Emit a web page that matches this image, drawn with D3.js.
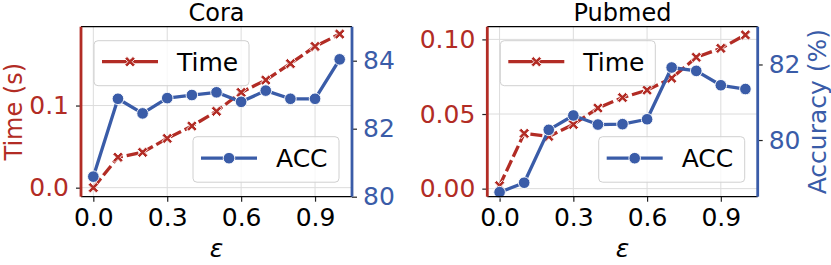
<!DOCTYPE html>
<html>
<head>
<meta charset="utf-8">
<script src="https://cdn.jsdelivr.net/npm/d3@7"></script>
<style>
  body { margin: 0; background: #fff; }
  svg { display: block; font-family: "DejaVu Sans", sans-serif; }
</style>
</head>
<body>
<svg id="chart" width="831" height="265"></svg>
<script>
// ---------------- data ----------------
const eps = [0.0, 0.1, 0.2, 0.3, 0.4, 0.5, 0.6, 0.7, 0.8, 0.9, 1.0];
const coraTime = [0.000, 0.037, 0.043, 0.060, 0.075, 0.093, 0.116, 0.131, 0.151, 0.172, 0.187];
const coraAcc = [80.59, 82.88, 82.45, 82.90, 82.99, 83.07, 82.79, 83.12, 82.88, 82.88, 84.04];
const pubmedTime = [0.002, 0.037, 0.035, 0.043, 0.054, 0.061, 0.066, 0.074, 0.088, 0.094, 0.103];
const pubmedAcc = [78.62, 78.87, 80.27, 80.65, 80.41, 80.42, 80.55, 81.92, 81.83, 81.45, 81.35];
const xTicks = [0.0, 0.3, 0.6, 0.9];
const coraTimeTicks = [0.0, 0.1];
const coraAccTicks = [80, 82, 84];
const pubmedTimeTicks = [0.00, 0.05, 0.10];
const pubmedAccTicks = [80, 82];
const titles = ["Cora", "Pubmed"];
const seriesNames = ["Time", "ACC"];

// ---------------- style ----------------
const RED = "#b22c25";
const BLUE = "#3a5ca8";
const GRID = "#dcdcdc";
const FS = 25;
const LW = 3.3;

const svg = d3.select("#chart");

function xMarkerPath(a, w) {
  const pts = [[w,a],[w,w],[a,w],[a,-w],[w,-w],[w,-a],[-w,-a],[-w,-w],[-a,-w],[-a,w],[-w,w],[-w,a]];
  const c = Math.SQRT1_2;
  return "M" + pts.map(([x,y]) => [(x - y) * c, (x + y) * c].map(v => v.toFixed(2)).join(",")).join("L") + "Z";
}
const XPATH = xMarkerPath(5.8, 1.6);
const R = 5.8;

function drawPanel(cfg) {
  const g = svg.append("g");
  const x = d3.scaleLinear().domain([-0.05, 1.05]).range([cfg.left, cfg.right]);
  const yT = d3.scaleLinear().domain(cfg.timeDomain).range([cfg.bottom, cfg.top]);
  const yA = d3.scaleLinear().domain(cfg.accDomain).range([cfg.bottom, cfg.top]);

  // grid
  g.append("g").selectAll("line").data(xTicks).join("line")
    .attr("x1", d => x(d)).attr("x2", d => x(d))
    .attr("y1", cfg.top).attr("y2", cfg.bottom)
    .attr("stroke", GRID).attr("stroke-width", 1);
  g.append("g").selectAll("line").data(cfg.timeTicks).join("line")
    .attr("x1", cfg.left).attr("x2", cfg.right)
    .attr("y1", d => yT(d)).attr("y2", d => yT(d))
    .attr("stroke", GRID).attr("stroke-width", 1);

  // axes
  const ax = g.append("g").attr("transform", `translate(0,${cfg.bottom})`)
    .call(d3.axisBottom(x).tickValues(xTicks).tickFormat(d3.format(".1f")).tickSize(5).tickPadding(7));
  ax.select(".domain").remove();
  ax.selectAll("text").attr("font-size", FS).attr("fill", "#000").attr("font-family", "DejaVu Sans");
  ax.selectAll("line").attr("stroke", "#222").attr("stroke-width", 1.2);

  const al = g.append("g").attr("transform", `translate(${cfg.left},0)`)
    .call(d3.axisLeft(yT).tickValues(cfg.timeTicks).tickFormat(d3.format(cfg.timeFmt)).tickSize(5).tickPadding(7));
  al.select(".domain").remove();
  al.selectAll("text").attr("font-size", FS).attr("fill", RED).attr("font-family", "DejaVu Sans");
  al.selectAll("line").attr("stroke", "#222").attr("stroke-width", 1.2);

  const ar = g.append("g").attr("transform", `translate(${cfg.right},0)`)
    .call(d3.axisRight(yA).tickValues(cfg.accTicks).tickFormat(d3.format("d")).tickSize(5).tickPadding(6));
  ar.select(".domain").remove();
  ar.selectAll("text").attr("font-size", FS).attr("fill", BLUE).attr("font-family", "DejaVu Sans");
  ar.selectAll("line").attr("stroke", "#222").attr("stroke-width", 1.2);

  // Time line (ax1)
  const lineT = d3.line().x((d, i) => x(eps[i])).y(d => yT(d));
  g.append("path").datum(cfg.time).attr("d", lineT)
    .attr("fill", "none").attr("stroke", RED).attr("stroke-width", LW)
    .attr("stroke-dasharray", "12,4").attr("stroke-linejoin", "round");
  g.append("g").selectAll("path").data(cfg.time).join("path")
    .attr("d", XPATH)
    .attr("transform", (d, i) => `translate(${x(eps[i])},${yT(d)})`)
    .attr("fill", RED).attr("stroke", "#fff").attr("stroke-width", 0.9);

  // Time legend
  const lt = g.append("g");
  const ltx = cfg.left + 13, lty = cfg.top + 14;
  lt.append("rect").attr("x", ltx).attr("y", lty).attr("width", 155).attr("height", 45)
    .attr("rx", 4).attr("fill", "#fff").attr("fill-opacity", 0.8)
    .attr("stroke", "#d0d0d0").attr("stroke-width", 1);
  const hy1 = lty + 21;
  lt.append("line").attr("x1", ltx + 8).attr("x2", ltx + 64).attr("y1", hy1).attr("y2", hy1)
    .attr("stroke", RED).attr("stroke-width", LW);
  lt.append("path").attr("d", XPATH).attr("transform", `translate(${ltx + 36},${hy1})`)
    .attr("fill", RED).attr("stroke", "#fff").attr("stroke-width", 0.9);
  lt.append("text").attr("x", ltx + 83).attr("y", hy1 + 9).attr("font-size", FS)
    .attr("fill", "#000").text(seriesNames[0]);

  // ACC line (ax2, on top)
  const lineA = d3.line().x((d, i) => x(eps[i])).y(d => yA(d));
  g.append("path").datum(cfg.acc).attr("d", lineA)
    .attr("fill", "none").attr("stroke", BLUE).attr("stroke-width", LW).attr("stroke-linejoin", "round");
  g.append("g").selectAll("circle").data(cfg.acc).join("circle")
    .attr("cx", (d, i) => x(eps[i])).attr("cy", d => yA(d)).attr("r", R)
    .attr("fill", BLUE).attr("stroke", "#fff").attr("stroke-width", 0.9);

  // ACC legend
  const la = g.append("g");
  const lax = cfg.right - 13 - 146, lay = cfg.bottom - 14.5 - 45.5;
  la.append("rect").attr("x", lax).attr("y", lay).attr("width", 146).attr("height", 45.5)
    .attr("rx", 4).attr("fill", "#fff").attr("fill-opacity", 0.8)
    .attr("stroke", "#d0d0d0").attr("stroke-width", 1);
  const hy2 = lay + 21.5;
  la.append("line").attr("x1", lax + 8).attr("x2", lax + 64).attr("y1", hy2).attr("y2", hy2)
    .attr("stroke", BLUE).attr("stroke-width", LW);
  la.append("circle").attr("cx", lax + 36).attr("cy", hy2).attr("r", R)
    .attr("fill", BLUE).attr("stroke", "#fff").attr("stroke-width", 0.9);
  la.append("text").attr("x", lax + 83).attr("y", hy2 + 9).attr("font-size", FS)
    .attr("fill", "#000").text(seriesNames[1]);

  // spines
  g.append("line").attr("x1", cfg.left).attr("x2", cfg.right).attr("y1", cfg.top).attr("y2", cfg.top)
    .attr("stroke", "#000").attr("stroke-width", 1.3);
  g.append("line").attr("x1", cfg.left).attr("x2", cfg.right).attr("y1", cfg.bottom).attr("y2", cfg.bottom)
    .attr("stroke", "#000").attr("stroke-width", 1.3);
  g.append("line").attr("x1", cfg.left).attr("x2", cfg.left).attr("y1", cfg.top).attr("y2", cfg.bottom)
    .attr("stroke", RED).attr("stroke-width", 2.8);
  g.append("line").attr("x1", cfg.right).attr("x2", cfg.right).attr("y1", cfg.top).attr("y2", cfg.bottom)
    .attr("stroke", BLUE).attr("stroke-width", 2.8);

  // title
  g.append("text").attr("x", (cfg.left + cfg.right) / 2).attr("y", 20.5)
    .attr("text-anchor", "middle").attr("font-size", 24).attr("fill", "#000").text(cfg.title);
  // x label
  g.append("text").attr("x", (cfg.left + cfg.right) / 2).attr("y", 257)
    .attr("text-anchor", "middle").attr("font-size", FS).attr("font-style", "italic")
    .attr("fill", "#000").text("ε");

  if (cfg.leftLabel) {
    g.append("text").attr("transform", `translate(22,${(cfg.top + cfg.bottom) / 2}) rotate(-90)`)
      .attr("text-anchor", "middle").attr("font-size", 24).attr("fill", RED).text(cfg.leftLabel);
  }
  if (cfg.rightLabel) {
    g.append("text").attr("transform", `translate(826,${(cfg.top + cfg.bottom) / 2}) rotate(-90)`)
      .attr("text-anchor", "middle").attr("font-size", FS).attr("fill", BLUE).text(cfg.rightLabel);
  }
}

drawPanel({
  title: titles[0], left: 81, right: 352, top: 26.7, bottom: 196.7,
  time: coraTime, acc: coraAcc,
  timeDomain: [-0.011, 0.196], accDomain: [80, 85],
  timeTicks: coraTimeTicks, accTicks: coraAccTicks, timeFmt: ".1f",
  leftLabel: "Time (s)", rightLabel: null
});
drawPanel({
  title: titles[1], left: 487.3, right: 757.7, top: 26.7, bottom: 196.7,
  time: pubmedTime, acc: pubmedAcc,
  timeDomain: [-0.0054, 0.1085], accDomain: [78.5, 83],
  timeTicks: pubmedTimeTicks, accTicks: pubmedAccTicks, timeFmt: ".2f",
  leftLabel: null, rightLabel: "Accuracy (%)"
});
</script>
</body>
</html>
